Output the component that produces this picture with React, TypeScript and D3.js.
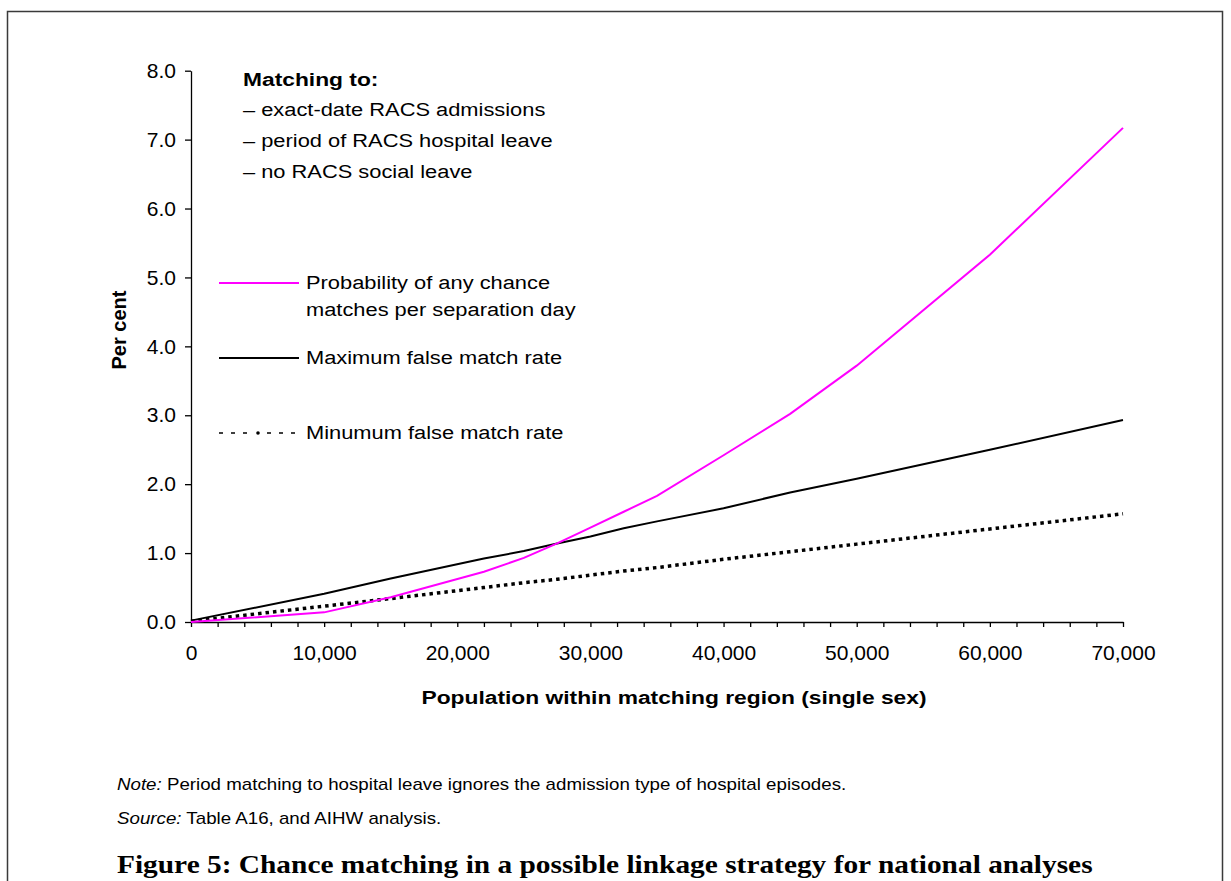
import { useEffect, useRef } from "react";
import * as d3 from "d3";

// population within matching region (single sex)
const population = [0, 10000, 15000, 22000, 25000, 27500, 30000, 32500, 35000, 40000, 45000, 50000, 60000, 70000];
// per cent
const anyChance = [0, 0.14, 0.36, 0.73, 0.93, 1.14, 1.37, 1.6, 1.83, 2.42, 3.02, 3.72, 5.33, 7.17];
const maxFalse = [0.02, 0.41, 0.63, 0.92, 1.03, 1.14, 1.24, 1.36, 1.46, 1.65, 1.88, 2.08, 2.5, 2.93];
const minFalse = [0.01, 0.23, 0.34, 0.5, 0.57, 0.62, 0.68, 0.74, 0.79, 0.91, 1.02, 1.13, 1.35, 1.57];

const yTicks = [0, 1, 2, 3, 4, 5, 6, 7, 8];
const xMajorTicks = [0, 10000, 20000, 30000, 40000, 50000, 60000, 70000];
const xMinorTicks = d3.range(0, 70001, 2000);

const matchingHeading = "Matching to:";
const matchingLines = [
  "– exact-date RACS admissions",
  "– period of RACS hospital leave",
  "– no RACS social leave",
];

const W = 1231;
const H = 881;
const SANS = "'Liberation Sans', Arial, sans-serif";
const PINK = "#ff00ff";

type Sel = d3.Selection<any, unknown, null, undefined>;

// the original's text is a bit wider than Arial at its height, so stretch it
function wideText(g: Sel, x: number, y: number, sx: number, txt: string) {
  return g
    .append("text")
    .attr("transform", `translate(${x},${y}) scale(${sx},1)`)
    .text(txt);
}

export default function App() {
  const ref = useRef<SVGSVGElement>(null);

  useEffect(() => {
    if (!ref.current) return;
    const svg = d3.select(ref.current);
    svg.selectAll("*").remove();

    const x = d3.scaleLinear().domain([0, 70000]).range([191, 1123]);
    const y = d3.scaleLinear().domain([0, 8]).range([622, 70.7]);

    // frame
    svg
      .append("path")
      .attr("d", `M7.5,${H + 5}V11.5H1222.5V${H + 5}`)
      .attr("fill", "none")
      .attr("stroke", "#3a3a3a")
      .attr("stroke-width", 1.5);

    // y axis
    const gy = svg
      .append("g")
      .attr("transform", `translate(${x(0)},0)`)
      .call(
        d3
          .axisLeft(y)
          .tickValues(yTicks)
          .tickFormat(d3.format(".1f"))
          .tickSize(6)
          .tickSizeOuter(0)
          .tickPadding(9)
      );
    gy.attr("font-family", SANS).attr("font-size", 21);
    gy.selectAll("line, path").attr("stroke", "#000").attr("stroke-width", 1.3);
    gy.selectAll("text").attr("fill", "#000");

    // x axis, minor ticks every 2,000, labels on the 10,000s
    const fmt = d3.format(",");
    const gx = svg
      .append("g")
      .attr("transform", `translate(0,${y(0)})`)
      .call(
        d3
          .axisBottom(x)
          .tickValues(xMinorTicks)
          .tickFormat((d) => (xMajorTicks.includes(+d) ? fmt(+d) : ""))
          .tickSize(5)
          .tickSizeOuter(0)
          .tickPadding(18)
      );
    gx.attr("font-family", SANS).attr("font-size", 21);
    gx.selectAll("line, path").attr("stroke", "#000").attr("stroke-width", 1.3);
    gx.selectAll("text").attr("fill", "#000");

    const line = d3
      .line<number>()
      .x((_d, i) => x(population[i]))
      .y((d) => y(d));

    svg
      .append("path")
      .datum(minFalse)
      .attr("d", line)
      .attr("fill", "none")
      .attr("stroke", "#000")
      .attr("stroke-width", 3.5)
      .attr("stroke-dasharray", "3.5 4");

    svg
      .append("path")
      .datum(maxFalse)
      .attr("d", line)
      .attr("fill", "none")
      .attr("stroke", "#000")
      .attr("stroke-width", 2);

    svg
      .append("path")
      .datum(anyChance)
      .attr("d", line)
      .attr("fill", "none")
      .attr("stroke", PINK)
      .attr("stroke-width", 2);

    // matching note
    const note = svg.append("g").attr("font-family", SANS).attr("font-size", 19).attr("fill", "#000");
    wideText(note, 243, 86, 1.2, matchingHeading).attr("font-weight", "bold");
    matchingLines.forEach((t, i) => wideText(note, 243, 116 + i * 31, 1.15, t));

    // legend
    const lg = svg.append("g").attr("font-family", SANS).attr("font-size", 19).attr("fill", "#000");
    lg.append("line").attr("x1", 219).attr("x2", 299).attr("y1", 283).attr("y2", 283)
      .attr("stroke", PINK).attr("stroke-width", 2);
    wideText(lg, 306, 289, 1.15, "Probability of any chance");
    wideText(lg, 306, 316, 1.15, "matches per separation day");
    lg.append("line").attr("x1", 219).attr("x2", 299).attr("y1", 358).attr("y2", 358)
      .attr("stroke", "#000").attr("stroke-width", 2);
    wideText(lg, 306, 364, 1.15, "Maximum false match rate");
    // "- - - • - - -" sample
    lg.append("line").attr("x1", 219).attr("x2", 299).attr("y1", 433).attr("y2", 433)
      .attr("stroke", "#000").attr("stroke-width", 1.3)
      .attr("stroke-dasharray", "4 8 4 8 4 20 4 8 4 8 4 8");
    lg.append("circle").attr("cx", 258).attr("cy", 433).attr("r", 1.8).attr("fill", "#000");
    wideText(lg, 306, 439, 1.15, "Minumum false match rate");

    // axis titles
    svg
      .append("text")
      .attr("transform", `translate(126,330) rotate(-90)`)
      .attr("text-anchor", "middle")
      .attr("font-family", SANS)
      .attr("font-size", 20)
      .attr("font-weight", "bold")
      .text("Per cent");
    const xt = svg.append("g").attr("font-family", SANS).attr("font-size", 19).attr("font-weight", "bold");
    wideText(xt, 674, 704, 1.2, "Population within matching region (single sex)").attr("text-anchor", "middle");

    // notes
    const foot = svg.append("g").attr("font-family", SANS).attr("font-size", 16).attr("fill", "#000");
    const n1 = wideText(foot, 117, 790, 1.17, "");
    n1.append("tspan").attr("font-style", "italic").text("Note:");
    n1.append("tspan").text(" Period matching to hospital leave ignores the admission type of hospital episodes.");
    const n2 = wideText(foot, 117, 824, 1.17, "");
    n2.append("tspan").attr("font-style", "italic").text("Source:");
    n2.append("tspan").text(" Table A16, and AIHW analysis.");

    const cap = svg
      .append("g")
      .attr("font-family", "'Liberation Serif', 'Times New Roman', serif")
      .attr("font-size", 26)
      .attr("font-weight", "bold");
    wideText(cap, 117, 873, 1.13, "Figure 5: Chance matching in a possible linkage strategy for national analyses");
  }, []);

  return (
    <svg
      ref={ref}
      width={W}
      height={H}
      style={{ position: "absolute", left: 0, top: 0, background: "#fff", display: "block" }}
    />
  );
}
